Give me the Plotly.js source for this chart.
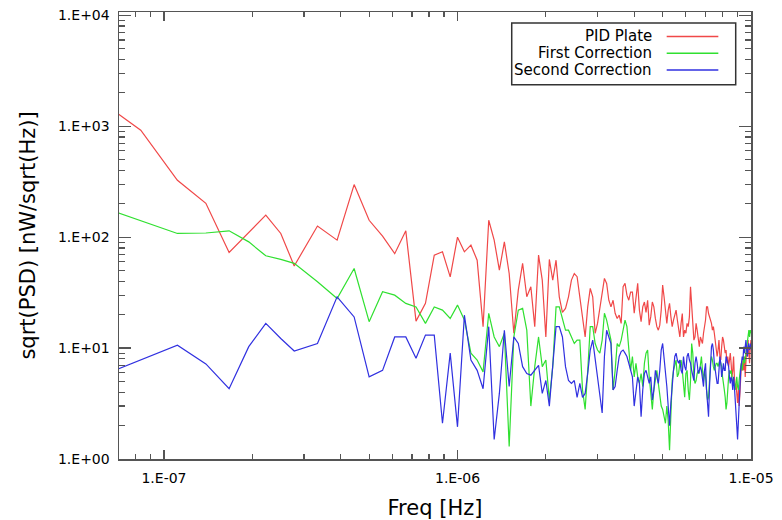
<!DOCTYPE html>
<html><head><meta charset="utf-8">
<script src="https://cdn.plot.ly/plotly-3.0.1.min.js"></script>
<style>html,body{margin:0;padding:0;background:#fff}#chart{width:782px;height:520px}</style>
</head><body><div id="chart"></div>
<script>
// frequency resolution (Hz) and harmonic numbers of the spectrum
const DF = 1e-6 / 18;
const lowHarmonics = [1, 1.5, 2, 2.5, 3, 3.5, 4, 4.5];
const harmonics = lowHarmonics.slice();
for (let k = 5; k <= 180; k++) harmonics.push(k);
const freq = harmonics.map(h => h * DF);

const seriesNames = ['PID Plate', 'First Correction', 'Second Correction'];
const seriesColors = ['#f04848', '#30e030', '#3030e0'];

const pidPlate = [
  2000, 920, 326, 202, 72.8, 111, 158, 108,
  55, 126, 94, 298, 142, 102, 71, 114, 17.5, 25.3, 68.9, 73.8, 43.9, 100, 73.8, 84.7,
  62, 15.6, 142, 94, 50.4, 90.7, 47, 13.6, 33.3, 58, 29, 35.7, 15.6, 68.9, 41, 12.6, 63, 41, 62, 29,
  21, 22.8, 29, 41, 47, 44, 29, 17.9, 12.6, 23.5, 34.5, 29, 13.6, 16.7, 23.5, 33.3, 42.5, 38.3, 27, 23.5,
  27, 20.6, 18.5, 19.8, 16.7, 35.7, 38.3, 30, 27, 32, 32, 20.6, 29, 38.3, 22, 17.3, 23.5, 26, 21, 27,
  16.1, 19.2, 26, 23.5, 18.5, 15.6, 14.5, 16.1, 22, 37, 29, 20.6, 16.7, 22, 25.3, 19.2, 15.6, 17.9, 20.6, 22,
  17.9, 15.6, 12.6, 16.7, 20.5, 12.6, 14.5, 13.6, 16.7, 15.6, 19.1, 35.7, 23.5, 15.6, 11.8, 12.6, 16.7, 14.5, 11.8, 10.3,
  12.6, 11.8, 11, 13.6, 15.6, 17.9, 23.5, 23.5, 20.5, 19.1, 17.3, 16.7, 14.5, 15.6, 13.6, 11.8, 10.3, 8.4, 9.6, 11.8,
  8.4, 7.8, 10.3, 12.6, 11.8, 10.3, 9, 9.6, 7.3, 8.4, 6.8, 7.8, 9, 7.3, 5.5, 6.3, 8.4, 5.5, 4.5, 4.8,
  3.6, 3.2, 4.2, 3, 3.9, 5.5, 7.3, 6.3, 7.8, 6.3, 8.4, 5.5, 7.3, 10.3, 8.4, 11.8, 9, 7.3, 10.3, 11.8
];

const firstCorrection = [
  205, 142, 108, 109, 114, 90.7, 67.9, 63,
  58, 39.6, 28, 52.2, 17.3, 32.2, 30, 25.3, 23.5, 16.7, 23.5, 22, 18.5, 24.4, 17.9, 9,
  7.8, 6.1, 20.6, 12.6, 10.3, 13.6, 1.3, 12.6, 22, 22.8, 14.5, 3, 6.8, 12.6, 6.8, 7.8, 3.4, 6.8, 23.5, 23.5,
  17.9, 14.5, 14.5, 12.6, 11, 11.8, 11.8, 4.2, 2.8, 6.3, 15.6, 15.6, 11, 9.6, 9, 11.8, 20.6, 17.9, 14.5, 11.8,
  4.2, 6.3, 11, 10.3, 11.8, 14.5, 17.9, 15.6, 10.3, 6.3, 8.4, 5.5, 7.3, 5.5, 4.8, 5.9, 4.5, 7.3, 9, 9.6,
  5.5, 3.6, 2.8, 4.2, 5.5, 6.3, 4.8, 3.6, 3, 2.8, 2.4, 2.1, 3, 2.2, 1.2, 3.2, 5.1, 6.3, 7.3, 7.8,
  5.5, 5.9, 7.3, 7.8, 6.3, 4.5, 3.6, 5.9, 6.3, 4.2, 3.4, 5.1, 11, 9, 5.5, 4.8, 5.1, 5.9, 6.3, 5.9,
  7.3, 8.4, 6.3, 5.1, 6.3, 5.5, 4.2, 3.4, 3.6, 5.5, 7.3, 8.4, 7.8, 6.8, 6.3, 6.8, 7.3, 7.3, 6.8, 7.3,
  7.8, 7.3, 6.8, 5.5, 4.5, 4.2, 3.6, 2.8, 3.2, 4.8, 5.5, 6.3, 5.9, 6.3, 5.5, 4.8, 5.1, 4.5, 4.2, 4.8,
  5.5, 4.5, 4.2, 5.1, 6.3, 6.8, 7.3, 6.3, 7.3, 8.4, 7.3, 7.8, 9, 10.3, 11.8, 13.6, 14.5, 12.6, 14.5, 13.6
];

const secondCorrection = [
  5.1, 7.8, 10.6, 7.2, 4.3, 10.3, 16.7, 12.2,
  9.4, 11, 29, 19.1, 5.5, 6.3, 12.6, 12.6, 8.1, 13.1, 13.1, 2.1, 9, 1.95, 19.8, 7.8,
  6.3, 4.3, 15.6, 1.5, 3.9, 14.5, 4.5, 12.6, 11, 6.8, 5.9, 5.7, 6.3, 7, 3.9, 5.1, 3, 6.8, 15.6, 15.6,
  12.6, 6.8, 5.1, 4.8, 5.1, 3.6, 4.8, 3.6, 3.9, 5.9, 9.6, 11.8, 7.8, 5.5, 3.6, 2.6, 8.4, 14.5, 12.6, 11,
  4.2, 4.5, 6.3, 8.4, 9.3, 9.6, 9, 8.4, 7.3, 6.3, 5.5, 3, 4.2, 5.5, 4.8, 2.4, 4.2, 5.9, 6.3, 5.5,
  4.8, 5.5, 3.4, 4.2, 6.3, 5.5, 4.8, 6.3, 9.6, 11, 8.4, 6.3, 4.5, 3, 2, 3.2, 4.8, 6.3, 8.4, 9,
  7.8, 7.3, 7.8, 6.3, 5.9, 8.4, 6.8, 6.3, 8.4, 9, 7.8, 7.3, 6.3, 5.5, 5.1, 7.3, 8.4, 7.3, 5.9, 6.3,
  6.8, 6.3, 5.5, 4.5, 6.3, 7.3, 4.2, 3.2, 2.4, 4.5, 7.3, 10.3, 11, 9.6, 7.3, 5.9, 5.5, 4.8, 4.8, 6.3,
  8.4, 7.3, 5.5, 6.3, 7.3, 6.3, 6.3, 8.4, 7.8, 7.3, 6.8, 5.5, 4.8, 5.5, 5.1, 4.2, 5.5, 4.5, 3.6, 2.4,
  2, 1.5, 2.4, 3.6, 4.8, 6.3, 7.3, 8.4, 7.8, 10.3, 9, 11, 11.8, 9.6, 8.4, 10.3, 11, 9.6, 11, 11
];

const xTickVals = [1e-7, 1e-6, 1e-5];
const xTickText = ['1.E-07', '1.E-06', '1.E-05'];
const yTickVals = [1, 10, 100, 1000, 10000];
const yTickText = ['1.E+00', '1.E+01', '1.E+02', '1.E+03', '1.E+04'];
const minorMultipliers = [2, 3, 4, 5, 6, 7, 8, 9];

const xMinor = [];
[1e-8, 1e-7, 1e-6].forEach(d => minorMultipliers.forEach(m => xMinor.push(m * d)));
const yMinor = [];
[1, 10, 100, 1000].forEach(d => minorMultipliers.forEach(m => yMinor.push(m * d)));

const allSeries = [pidPlate, firstCorrection, secondCorrection];
const traces = allSeries.map((vals, i) => ({
  type: 'scatter', mode: 'lines',
  x: freq.slice(0, vals.length), y: vals,
  name: seriesNames[i], showlegend: false,
  line: {color: seriesColors[i], width: 1.2},
  hoverinfo: 'skip'
}));

// custom legend (text right-aligned, line sample on the right)
const legendRowsY = [0.9453, 0.9077, 0.870];
const annotations = seriesNames.map((n, i) => ({
  xref: 'paper', yref: 'paper', x: 0.847, y: legendRowsY[i],
  xanchor: 'right', yanchor: 'middle', text: n, showarrow: false,
  font: {family: 'DejaVu Sans', size: 15, color: '#000'}
}));
const shapes = [{
  type: 'rect', xref: 'paper', yref: 'paper', x0: 0.6214, x1: 0.9758, y0: 0.8372, y1: 0.9752,
  line: {color: '#333', width: 1.5}, fillcolor: 'rgba(255,255,255,0)'
}].concat(seriesNames.map((n, i) => ({
  type: 'line', xref: 'paper', yref: 'paper', x0: 0.8666, x1: 0.9483, y0: legendRowsY[i], y1: legendRowsY[i],
  line: {color: seriesColors[i], width: 1.5}
})));

const axisCommon = {
  type: 'log', showgrid: false, zeroline: false, showline: true, mirror: 'ticks',
  linecolor: '#555', linewidth: 1.5, ticks: 'inside', tickcolor: '#555', tickwidth: 1.2,
  tickmode: 'array', tickfont: {family: 'DejaVu Sans', size: 14, color: '#000'}
};

const layout = {
  width: 782, height: 520,
  margin: {l: 119, r: 31, t: 12, b: 61, pad: 0},
  paper_bgcolor: '#fff', plot_bgcolor: '#fff',
  showlegend: false,
  xaxis: Object.assign({}, axisCommon, {
    range: [-7.1533, -5], tickvals: xTickVals, ticktext: xTickText, ticklen: 9,
    ticklabelstandoff: 6,
    minor: {tickmode: 'array', tickvals: xMinor, ticks: 'inside', ticklen: 5, tickcolor: '#555', tickwidth: 1.2, showgrid: false},
    title: {text: 'Freq [Hz]', font: {family: 'DejaVu Sans', size: 21, color: '#000'}, standoff: 15}
  }),
  yaxis: Object.assign({}, axisCommon, {
    range: [0, 4.03], tickvals: yTickVals, ticktext: yTickText, ticklen: 12,
    ticklabelstandoff: 5,
    minor: {tickmode: 'array', tickvals: yMinor, ticks: 'inside', ticklen: 6, tickcolor: '#555', tickwidth: 1.2, showgrid: false},
    title: {text: 'sqrt(PSD) [nW/sqrt(Hz)]', font: {family: 'DejaVu Sans', size: 21, color: '#000'}, standoff: 16}
  }),
  annotations: annotations,
  shapes: shapes
};

Plotly.newPlot('chart', traces, layout, {displayModeBar: false, staticPlot: true});
</script>
</body></html>
